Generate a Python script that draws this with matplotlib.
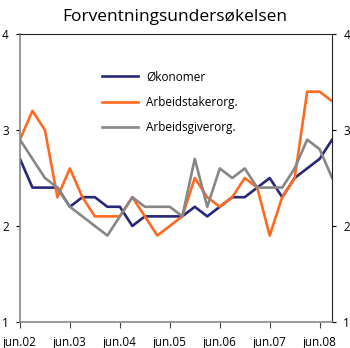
import matplotlib
matplotlib.use("Agg")
import matplotlib.pyplot as plt
import numpy as np

plt.rcParams["font.family"] = ["Open Sans", "DejaVu Sans"]

# quarterly survey, jun.02 - sep.08
quarters = ["jun.02", "sep.02", "des.02", "mar.03", "jun.03", "sep.03", "des.03", "mar.04",
            "jun.04", "sep.04", "des.04", "mar.05", "jun.05", "sep.05", "des.05", "mar.06",
            "jun.06", "sep.06", "des.06", "mar.07", "jun.07", "sep.07", "des.07", "mar.08",
            "jun.08", "sep.08"]
okonomer = [2.7, 2.4, 2.4, 2.4, 2.2, 2.3, 2.3, 2.2, 2.2, 2.0, 2.1, 2.1, 2.1,
            2.1, 2.2, 2.1, 2.2, 2.3, 2.3, 2.4, 2.5, 2.3, 2.5, 2.6, 2.7, 2.9]
arbeidstaker = [2.9, 3.2, 3.0, 2.3, 2.6, 2.3, 2.1, 2.1, 2.1, 2.3, 2.1, 1.9, 2.0,
                2.1, 2.5, 2.3, 2.2, 2.3, 2.5, 2.4, 1.9, 2.3, 2.5, 3.4, 3.4, 3.3]
arbeidsgiver = [2.9, 2.7, 2.5, 2.4, 2.2, 2.1, 2.0, 1.9, 2.1, 2.3, 2.2, 2.2, 2.2,
                2.1, 2.7, 2.2, 2.6, 2.5, 2.6, 2.4, 2.4, 2.4, 2.6, 2.9, 2.8, 2.5]
tick_labels = ["jun.02", "jun.03", "jun.04", "jun.05", "jun.06", "jun.07", "jun.08"]

x = np.arange(len(quarters))

fig = plt.figure(figsize=(3.5, 3.48), dpi=100)
ax = fig.add_axes([0.057, 0.075, 0.892, 0.827])

ax.plot(x, okonomer, color="#27287a", lw=1.9, label="Økonomer")
ax.plot(x, arbeidstaker, color="#ff6a21", lw=1.9, label="Arbeidstakerorg.")
ax.plot(x, arbeidsgiver, color="#878787", lw=1.9, label="Arbeidsgiverorg.")

ax.set_xlim(0, len(quarters) - 1)
ax.set_ylim(1, 4)
ax.set_xticks([quarters.index(t) for t in tick_labels])
ax.set_xticklabels(tick_labels, fontsize=8.5)
ax.set_yticks([1, 2, 3, 4])
ax.tick_params(axis="y", labelsize=8.5, length=3, width=0.8, pad=5,
               left=True, right=True, labelleft=True, labelright=True)
ax.tick_params(axis="x", length=4, width=0.8, color="#444444", pad=6)

for s in ["top", "right"]:
    ax.spines[s].set_color("#222222")
    ax.spines[s].set_linewidth(0.8)
for s in ["left", "bottom"]:
    ax.spines[s].set_color("#888888")
    ax.spines[s].set_linewidth(1.2)

ax.legend(loc="upper left", bbox_to_anchor=(0.23, 0.91), frameon=False, fontsize=8.5,
          handlelength=3.0, handletextpad=0.7, labelspacing=1.05)

fig.suptitle("Forventningsundersøkelsen", fontsize=12.5, y=0.975)

plt.savefig("out.png", dpi=100)
